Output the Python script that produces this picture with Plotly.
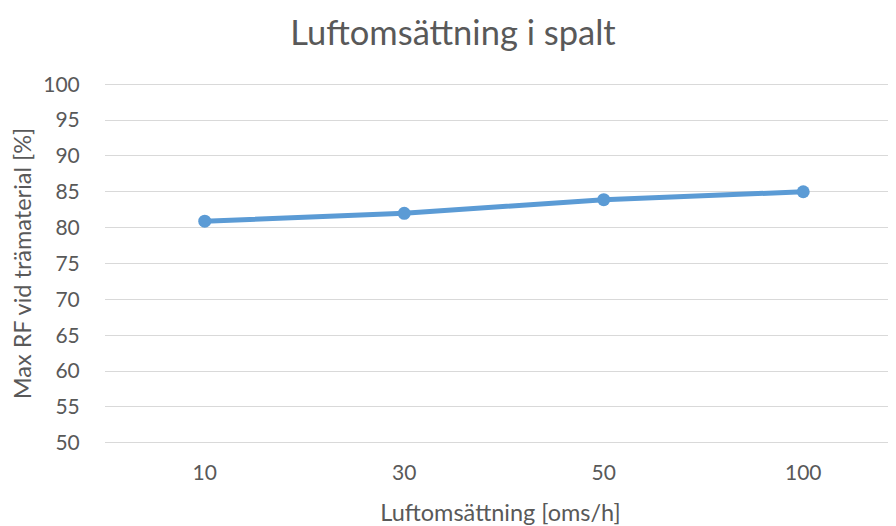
import plotly.graph_objects as go

categories = ["10", "30", "50", "100"]
values = [80.9, 82.0, 83.9, 85.0]
y_ticks = [50, 55, 60, 65, 70, 75, 80, 85, 90, 95, 100]

title_text = "Luftomsättning i spalt"
x_title = "Luftomsättning [oms/h]"
y_title = "Max RF vid trämaterial [%]"

font_family = "Lato, 'Open Sans', sans-serif"
grey = "#595959"

# page body has an 8px offset; size the figure so it fills the window
W, H = 888, 518

fig = go.Figure()
fig.add_trace(go.Scatter(
    x=list(range(len(categories))),
    y=values,
    mode="lines+markers",
    line=dict(color="#5B9BD5", width=5),
    marker=dict(color="#5B9BD5", size=13),
    showlegend=False,
    hoverinfo="skip",
))

fig.update_layout(
    width=W, height=H,
    margin=dict(l=97, r=0, t=74, b=81),
    paper_bgcolor="white", plot_bgcolor="white",
    font=dict(family=font_family, color=grey),
    title=dict(text=title_text, x=445 / W, xanchor="center", y=1 - 25 / H, yanchor="middle",
               font=dict(size=34.5, color=grey, family=font_family)),
    xaxis=dict(
        tickmode="array", tickvals=list(range(len(categories))), ticktext=categories,
        range=[-0.5, 3.465], showgrid=False, zeroline=False,
        showline=False, ticks="outside", ticklen=9, tickcolor="rgba(0,0,0,0)",
        tickfont=dict(size=21, color=grey),
        title=dict(text=x_title, font=dict(size=23.5, color=grey), standoff=24),
    ),
    yaxis=dict(
        tickmode="array", tickvals=y_ticks, range=[49.7, 100.3],
        showgrid=True, gridcolor="#D9D9D9", gridwidth=1.3, zeroline=False,
        showline=False, ticks="outside", ticklen=20, tickcolor="rgba(0,0,0,0)",
        tickfont=dict(size=21, color=grey),
        title=dict(text=y_title, font=dict(size=23.5, color=grey), standoff=6),
    ),
)

fig.write_html("out.html")
